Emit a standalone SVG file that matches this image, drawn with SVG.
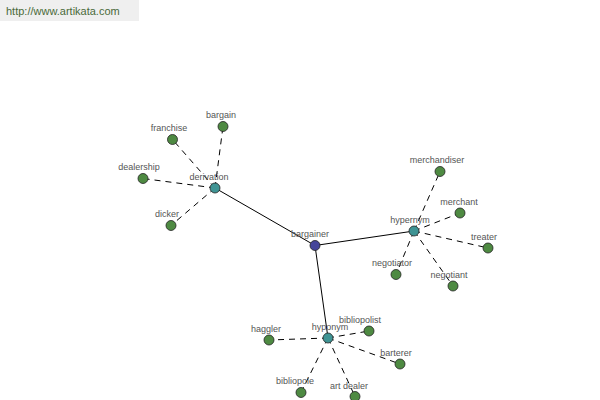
<svg xmlns="http://www.w3.org/2000/svg" width="600" height="400" viewBox="0 0 600 400">
<style>
text{font-family:"Liberation Sans",Arial,sans-serif;font-size:9px;fill:#555;text-anchor:middle}
.hdr{font-size:11px;fill:#4a6a3a;text-anchor:start}
.e{stroke:#000;stroke-width:1;fill:none}
.d{stroke:#000;stroke-width:1;fill:none;stroke-dasharray:6,5}
circle{stroke:#222;stroke-width:0.8}
.leaf circle{fill:#4e8a42}
.mid circle{fill:#3f9494}
.root circle{fill:#45459a}
</style>
<rect x="0" y="0" width="139" height="21" fill="#efefef"/>
<text class="hdr" x="6" y="15">http://www.artikata.com</text>
<g id="connectors">
<line class="e" x1="315" y1="245.5" x2="215" y2="188"/>
<line class="e" x1="315" y1="245.5" x2="414" y2="231"/>
<line class="e" x1="315" y1="245.5" x2="328" y2="338"/>
<line class="d" x1="215" y1="188" x2="223" y2="126.5"/>
<line class="d" x1="215" y1="188" x2="172.5" y2="139.5"/>
<line class="d" x1="215" y1="188" x2="143" y2="178.5"/>
<line class="d" x1="215" y1="188" x2="171" y2="225.5"/>
<line class="d" x1="414" y1="231" x2="440" y2="171.5"/>
<line class="d" x1="414" y1="231" x2="460" y2="213"/>
<line class="d" x1="414" y1="231" x2="488" y2="248"/>
<line class="d" x1="414" y1="231" x2="396" y2="274.5"/>
<line class="d" x1="414" y1="231" x2="453" y2="286"/>
<line class="d" x1="328" y1="338" x2="269" y2="340"/>
<line class="d" x1="328" y1="338" x2="369" y2="331"/>
<line class="d" x1="328" y1="338" x2="400" y2="364"/>
<line class="d" x1="328" y1="338" x2="301" y2="392.5"/>
<line class="d" x1="328" y1="338" x2="355" y2="396.5"/>
</g>
<g id="n-bargainer" class="root"><circle cx="315" cy="245.5" r="5"/><text x="310" y="237">bargainer</text></g>
<g id="n-derivation" class="mid"><circle cx="215" cy="188" r="5"/><text x="209" y="180">derivation</text></g>
<g id="n-hypernym" class="mid"><circle cx="414" cy="231" r="5"/><text x="410" y="223">hypernym</text></g>
<g id="n-hyponym" class="mid"><circle cx="328" cy="338" r="5"/><text x="330" y="330">hyponym</text></g>
<g id="n-bargain" class="leaf"><circle cx="223" cy="126.5" r="5"/><text x="221" y="118">bargain</text></g>
<g id="n-franchise" class="leaf"><circle cx="172.5" cy="139.5" r="5"/><text x="169" y="131">franchise</text></g>
<g id="n-dealership" class="leaf"><circle cx="143" cy="178.5" r="5"/><text x="139" y="170">dealership</text></g>
<g id="n-dicker" class="leaf"><circle cx="171" cy="225.5" r="5"/><text x="167" y="217">dicker</text></g>
<g id="n-merchandiser" class="leaf"><circle cx="440" cy="171.5" r="5"/><text x="437" y="163">merchandiser</text></g>
<g id="n-merchant" class="leaf"><circle cx="460" cy="213" r="5"/><text x="459" y="205">merchant</text></g>
<g id="n-treater" class="leaf"><circle cx="488" cy="248" r="5"/><text x="484" y="240">treater</text></g>
<g id="n-negotiator" class="leaf"><circle cx="396" cy="274.5" r="5"/><text x="392" y="266">negotiator</text></g>
<g id="n-negotiant" class="leaf"><circle cx="453" cy="286" r="5"/><text x="449" y="278">negotiant</text></g>
<g id="n-haggler" class="leaf"><circle cx="269" cy="340" r="5"/><text x="266" y="332">haggler</text></g>
<g id="n-bibliopolist" class="leaf"><circle cx="369" cy="331" r="5"/><text x="360" y="323">bibliopolist</text></g>
<g id="n-barterer" class="leaf"><circle cx="400" cy="364" r="5"/><text x="396" y="356">barterer</text></g>
<g id="n-bibliopole" class="leaf"><circle cx="301" cy="392.5" r="5"/><text x="295" y="384">bibliopole</text></g>
<g id="n-art-dealer" class="leaf"><circle cx="355" cy="396.5" r="5"/><text x="349" y="389">art dealer</text></g>
</svg>
